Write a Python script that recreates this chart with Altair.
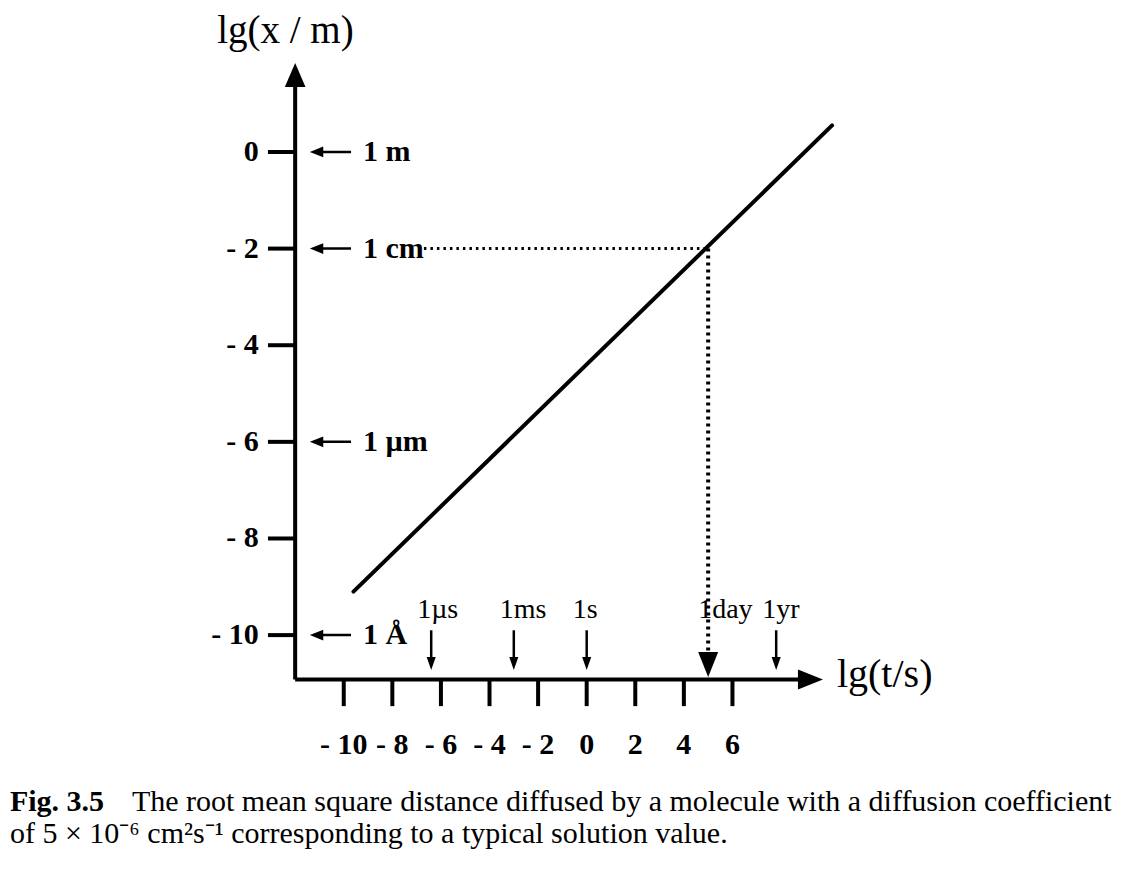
import altair as alt
import pandas as pd

# ---------------- data ----------------
y_tick_values = [0, -2, -4, -6, -8, -10]
y_tick_labels = ["0", "- 2", "- 4", "- 6", "- 8", "- 10"]
x_tick_values = [-10, -8, -6, -4, -2, 0, 2, 4, 6]
x_tick_labels = ["- 10", "- 8", "- 6", "- 4", "- 2", "0", "2", "4", "6"]
length_marks = [0, -2, -6, -10]
length_labels = ["1 m", "1 cm", "1 µm", "1 Å"]
time_marks = [-6.4, -3.0, 0.0, 7.8]
time_labels = ["1µs", "1ms", "1s", "1yr"]
day_mark = [5.0]
day_label = ["1day"]
line_lgt = [-9.6, 10.1]
line_lgx = [-9.1, 0.55]
caption_bold = "Fig. 3.5"
caption_line1 = "The root mean square distance diffused by a molecule with a diffusion coefficient"
caption_line2 = "of 5 × 10⁻⁶ cm²s⁻¹ corresponding to a typical solution value."

# ---------------- geometry (data units of the drawing) ----------------
W, H = 1110, 845
X_DOM = [-23.82, 21.87]
Y_DOM = [-14.51, 2.98]
X0, Y0 = -12.0, -10.92          # where the two axes meet
FONT = "Liberation Serif"
CAP_FONT = "Liberation Serif"

xs = alt.Scale(domain=X_DOM, nice=False, zero=False)
ys = alt.Scale(domain=Y_DOM, nice=False, zero=False)


def X(f):
    return alt.X(f, type="quantitative", scale=xs, axis=None)


def Y(f):
    return alt.Y(f, type="quantitative", scale=ys, axis=None)


def n(k, v):
    return [v] * k


layers = []

# main axes
axes_df = pd.DataFrame({"x": [X0, X0], "x2": [X0, 9.0], "y": [Y0, Y0], "y2": [1.45, Y0]})
layers.append(alt.Chart(axes_df).mark_rule(color="black", strokeWidth=4)
              .encode(x=X("x"), x2="x2", y=Y("y"), y2="y2"))

# big arrowheads
up_df = pd.DataFrame({"x": [X0], "y": [1.594]})
layers.append(alt.Chart(up_df).mark_point(shape="M0,-1L0.86,1L-0.86,1Z", size=576, filled=True,
                                          color="black", opacity=1, strokeWidth=0)
              .encode(x=X("x"), y=Y("y")))
right_df = pd.DataFrame({"x": [9.21], "y": [Y0]})
layers.append(alt.Chart(right_df).mark_point(shape="M1,0L-1,-0.8L-1,0.8Z", size=625, filled=True,
                                             color="black", opacity=1, strokeWidth=0)
              .encode(x=X("x"), y=Y("y")))

# y ticks
k = len(y_tick_values)
yt_df = pd.DataFrame({"v": y_tick_values, "lab": y_tick_labels,
                      "a": n(k, -13.12), "b": n(k, X0), "t": n(k, -13.5)})
layers.append(alt.Chart(yt_df).mark_rule(color="black", strokeWidth=4)
              .encode(x=X("a"), x2="b", y=Y("v")))
layers.append(alt.Chart(yt_df).mark_text(font=FONT, fontSize=30, fontWeight="bold", align="right",
                                         baseline="middle", color="black")
              .encode(x=X("t"), y=Y("v"), text="lab:N"))

# x ticks
k = len(x_tick_values)
xt_df = pd.DataFrame({"v": x_tick_values, "lab": x_tick_labels,
                      "a": n(k, Y0), "b": n(k, -11.47), "t": n(k, -12.28)})
layers.append(alt.Chart(xt_df).mark_rule(color="black", strokeWidth=4)
              .encode(x=X("v"), y=Y("a"), y2="b"))
layers.append(alt.Chart(xt_df).mark_text(font=FONT, fontSize=30, fontWeight="bold", align="center",
                                         baseline="middle", color="black")
              .encode(x=X("v"), y=Y("t"), text="lab:N"))

# length arrows and labels
k = len(length_marks)
lm_df = pd.DataFrame({"v": length_marks, "lab": length_labels,
                      "a": n(k, -11.1), "b": n(k, -9.7), "h": n(k, -11.12), "t": n(k, -9.21)})
layers.append(alt.Chart(lm_df).mark_rule(color="black", strokeWidth=2.5)
              .encode(x=X("a"), x2="b", y=Y("v")))
layers.append(alt.Chart(lm_df).mark_point(shape="M-1,0L1,-0.8L1,0.8Z", size=180, filled=True,
                                          color="black", opacity=1, strokeWidth=0)
              .encode(x=X("h"), y=Y("v")))
layers.append(alt.Chart(lm_df).mark_text(font=FONT, fontSize=30, fontWeight="bold", align="left",
                                         baseline="middle", color="black")
              .encode(x=X("t"), y=Y("v"), text="lab:N"))

# time arrows and labels
k = len(time_marks)
tm_df = pd.DataFrame({"v": time_marks, "lab": time_labels,
                      "a": n(k, -9.90), "b": n(k, -10.5), "h": n(k, -10.59), "t": n(k, -9.47)})
layers.append(alt.Chart(tm_df).mark_rule(color="black", strokeWidth=2.5)
              .encode(x=X("v"), y=Y("a"), y2="b"))
layers.append(alt.Chart(tm_df).mark_point(shape="M0,1L-0.7,-1L0.7,-1Z", size=169, filled=True,
                                          color="black", opacity=1, strokeWidth=0)
              .encode(x=X("v"), y=Y("h")))
layers.append(alt.Chart(tm_df).mark_text(font=FONT, fontSize=28, align="left", baseline="middle",
                                         color="black", dx=-14)
              .encode(x=X("v"), y=Y("t"), text="lab:N"))
day_df = pd.DataFrame({"v": day_mark, "lab": day_label, "t": [-9.47]})
layers.append(alt.Chart(day_df).mark_text(font=FONT, fontSize=28, align="left", baseline="middle",
                                          color="black", dx=-10)
              .encode(x=X("v"), y=Y("t"), text="lab:N"))

# dotted guides to 1 cm / 1 day
hdot_df = pd.DataFrame({"x": [-6.7], "x2": day_mark, "y": [-2.0]})
layers.append(alt.Chart(hdot_df).mark_rule(color="black", strokeWidth=3, strokeDash=[2.5, 4])
              .encode(x=X("x"), x2="x2", y=Y("y")))
vdot_df = pd.DataFrame({"x": day_mark, "y": [-2.0], "y2": [-10.35]})
layers.append(alt.Chart(vdot_df).mark_rule(color="black", strokeWidth=4, strokeDash=[3, 4])
              .encode(x=X("x"), y=Y("y"), y2="y2"))
down_df = pd.DataFrame({"x": day_mark, "y": [-10.61]})
layers.append(alt.Chart(down_df).mark_point(shape="M0,1L-0.8,-1L0.8,-1Z", size=625, filled=True,
                                            color="black", opacity=1, strokeWidth=0)
              .encode(x=X("x"), y=Y("y")))

# the diffusion line
line_df = pd.DataFrame({"t": line_lgt, "x": line_lgx})
layers.append(alt.Chart(line_df).mark_line(color="black", strokeWidth=4, strokeCap="round")
              .encode(x=X("t"), y=Y("x")))

# axis titles
ty_df = pd.DataFrame({"x": [-12.4], "y": [2.256], "lab": ["lg(x / m)"]})
layers.append(alt.Chart(ty_df).mark_text(font=FONT, fontSize=39, align="center", baseline="alphabetic",
                                         color="black")
              .encode(x=X("x"), y=Y("y"), text="lab:N"))
tx_df = pd.DataFrame({"x": [10.3], "y": [-11.08], "lab": ["lg(t/s)"]})
layers.append(alt.Chart(tx_df).mark_text(font=FONT, fontSize=40, align="left", baseline="alphabetic",
                                         color="black")
              .encode(x=X("x"), y=Y("y"), text="lab:N"))

# caption
capb_df = pd.DataFrame({"x": [-23.74], "y": [-13.64], "lab": [caption_bold]})
layers.append(alt.Chart(capb_df).mark_text(font=CAP_FONT, fontSize=30, fontWeight="bold",
                                           align="left", baseline="alphabetic", color="black")
              .encode(x=X("x"), y=Y("y"), text="lab:N"))
cap_df = pd.DataFrame({"x": [-18.72, -23.74], "y": [-13.64, -14.31],
                       "lab": [caption_line1, caption_line2]})
layers.append(alt.Chart(cap_df).mark_text(font=CAP_FONT, fontSize=30,
                                          align="left", baseline="alphabetic", color="black")
              .encode(x=X("x"), y=Y("y"), text="lab:N"))

chart = (alt.layer(*layers)
         .properties(width=W, height=H, padding=0, autosize=alt.AutoSizeParams(type="none"),
                     background="white")
         .configure_view(stroke=None))

chart.save("out.html", embed_options={"renderer": "svg", "actions": False})
